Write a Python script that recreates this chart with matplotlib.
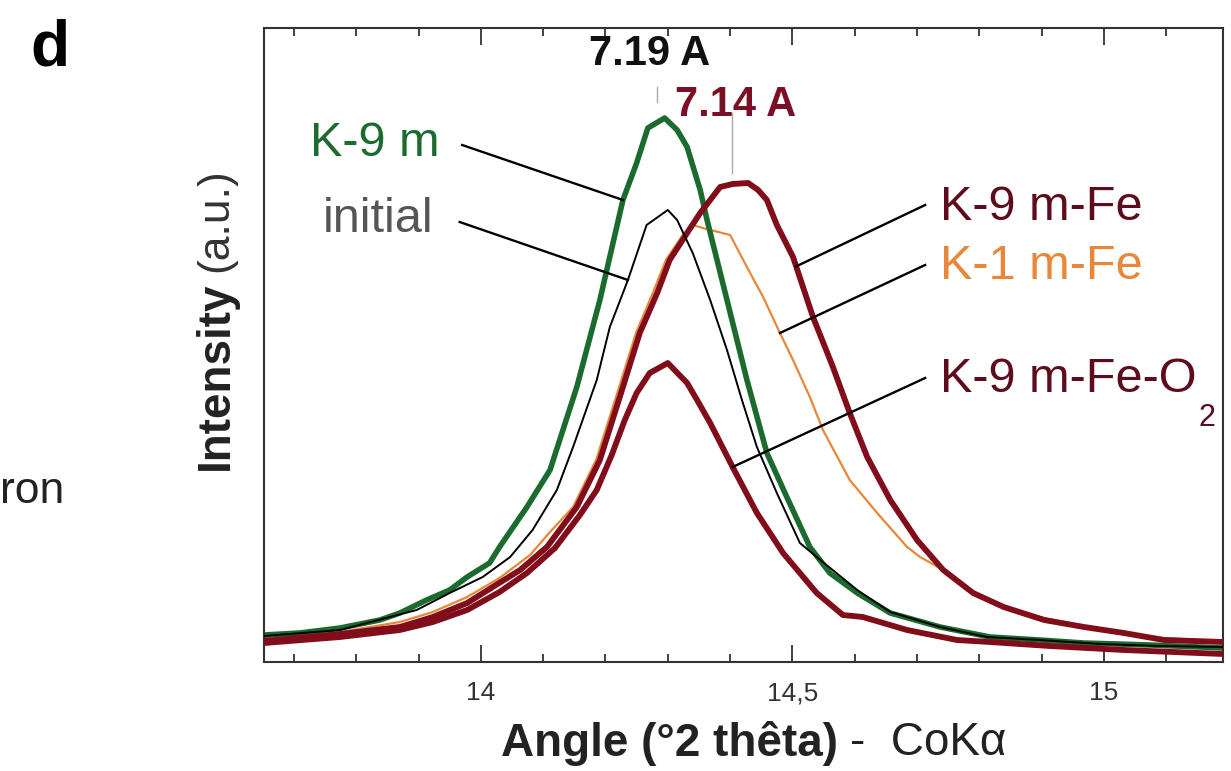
import numpy as np
import matplotlib
matplotlib.use("Agg")
import matplotlib.pyplot as plt
from matplotlib.ticker import MultipleLocator, FuncFormatter

plt.rcParams["font.family"] = ["Liberation Sans", "DejaVu Sans"]

# 2-theta (deg, CoKa) and intensity (a.u.) for each sample
angle_k9m = [13.652, 13.709, 13.774, 13.838, 13.870, 13.913, 13.950, 13.978, 14.014,
             14.030, 14.074, 14.111, 14.154, 14.191, 14.228, 14.250, 14.268, 14.295,
             14.315, 14.331, 14.352, 14.363, 14.395, 14.427, 14.459, 14.491, 14.528,
             14.560, 14.604, 14.657, 14.737, 14.817, 14.897, 14.968, 15.074, 15.191]
int_k9m = [27, 29, 34, 42, 49, 62, 72, 85, 99,
           115, 155, 192, 275, 362, 462, 499, 534, 544,
           532, 515, 472, 442, 362, 282, 209, 165, 115,
           89, 69, 49, 35, 25, 22, 19, 17, 14]

angle_init = [13.652, 13.774, 13.897, 13.950, 14.003, 14.047, 14.083, 14.122, 14.148,
              14.186, 14.207, 14.236, 14.266, 14.300, 14.315, 14.340, 14.368, 14.395,
              14.419, 14.443, 14.475, 14.512, 14.539, 14.604, 14.657, 14.737, 14.812,
              14.897, 14.994, 15.090, 15.191]
int_init = [26, 32, 52, 69, 85, 105, 132, 172, 215,
            282, 335, 382, 437, 452, 442, 409, 362, 312,
            262, 215, 169, 119, 105, 72, 50, 35, 25,
            22, 18, 16, 15]

angle_k9mfe = [13.652, 13.774, 13.870, 13.923, 13.978, 14.019, 14.063, 14.106, 14.154,
               14.191, 14.228, 14.255, 14.283, 14.303, 14.331, 14.352, 14.384, 14.404,
               14.429, 14.445, 14.459, 14.475, 14.501, 14.533, 14.565, 14.592, 14.620,
               14.657, 14.700, 14.742, 14.790, 14.839, 14.904, 14.968, 15.032, 15.096,
               15.191]
int_k9mfe = [21, 28, 35, 45, 59, 75, 92, 115, 155,
             202, 275, 329, 369, 402, 429, 449, 475, 478,
             479, 472, 462, 437, 405, 345, 295, 249, 205,
             162, 122, 92, 69, 55, 42, 35, 29, 22,
             20]

angle_k1mfe = [13.652, 13.774, 13.870, 13.923, 13.978, 14.030, 14.079, 14.111, 14.148,
               14.185, 14.222, 14.249, 14.276, 14.297, 14.324, 14.340, 14.356, 14.400,
               14.427, 14.453, 14.480, 14.501, 14.528, 14.549, 14.592, 14.636, 14.684,
               14.705, 14.742, 14.790, 14.839, 14.904, 14.968, 15.032, 15.096, 15.191]
int_k1mfe = [24, 30, 40, 50, 65, 84, 107, 130, 155,
             202, 275, 329, 369, 402, 427, 437, 434, 427,
             395, 365, 329, 302, 265, 232, 182, 149, 115,
             105, 92, 70, 56, 44, 36, 29, 24, 21]

angle_k9mfeo2 = [13.652, 13.774, 13.870, 13.923, 13.978, 14.030, 14.074, 14.119, 14.159,
                 14.186, 14.210, 14.231, 14.250, 14.271, 14.300, 14.331, 14.347, 14.368,
                 14.404, 14.443, 14.485, 14.539, 14.581, 14.613, 14.684, 14.764, 14.817,
                 14.913, 15.032, 15.191]
int_k9mfeo2 = [19, 25, 32, 40, 52, 70, 89, 114, 147,
               172, 207, 242, 269, 289, 299, 279, 262, 239,
               195, 149, 109, 69, 47, 45, 32, 22, 20,
               16, 12, 8]

GREEN = "#1c6b2e"
MAROON = "#810c1a"
ORANGE = "#e8873a"
TEXT_RED = "#5e0b1c"

fig = plt.figure(figsize=(12.31, 7.71), dpi=100)
W, H = 1231, 771
ax = fig.add_axes([264 / W, 1 - 662 / H, (1223 - 264) / W, (662 - 28) / H])

ax.plot(angle_k1mfe, int_k1mfe, color=ORANGE, lw=1.6, zorder=2)
ax.plot(angle_init, int_init, color="black", lw=1.4, zorder=3)
ax.plot(angle_k9m, int_k9m, color=GREEN, lw=4.0, zorder=2.5)
ax.plot(angle_k9mfe, int_k9mfe, color=MAROON, lw=4.2, zorder=2.6)
ax.plot(angle_k9mfeo2, int_k9mfeo2, color=MAROON, lw=4.2, zorder=2.7)

ax.set_xlim(13.652, 15.191)
ax.set_ylim(0, 634)

ax.xaxis.set_major_locator(MultipleLocator(0.5))
ax.xaxis.set_minor_locator(MultipleLocator(0.1))
ax.xaxis.set_major_formatter(FuncFormatter(lambda v, _: f"{v:g}".replace(".", ",")))
ax.tick_params(axis="x", which="both", direction="in", top=True, bottom=True,
               colors="#333333", width=1.3, labelsize=19, pad=14)
ax.tick_params(axis="x", which="major", length=12)
ax.tick_params(axis="x", which="minor", length=6)
ax.set_yticks([])
for sp in ax.spines.values():
    sp.set_linewidth(1.5)
    sp.set_color("#333333")


def leader(curve_x, curve_y, x_end, x_start, y_start):
    y_end = np.interp(x_end, curve_x, curve_y)
    ax.plot([x_start, x_end], [y_start, y_end], color="black", lw=1.7, zorder=4)


# labels on the left with leader lines
ax.text(13.830, 518, "K-9 m", color=GREEN, fontsize=35, ha="center", va="center")
leader(angle_k9m, int_k9m, 14.228, 13.970, 517)
ax.text(13.835, 442, "initial", color="#555555", fontsize=35, ha="center", va="center")
leader(angle_init, int_init, 14.236, 13.966, 440)

# labels on the right
ax.text(14.737, 455, "K-9 m-Fe", color=TEXT_RED, fontsize=35, ha="left", va="center")
leader(angle_k9mfe, int_k9mfe, 14.506, 14.713, 457)
ax.text(14.737, 395, "K-1 m-Fe", color=ORANGE, fontsize=35, ha="left", va="center")
leader(angle_k1mfe, int_k1mfe, 14.480, 14.713, 397)
ax.text(14.737, 282, "K-9 m-Fe-O", color=TEXT_RED, fontsize=35, ha="left", va="center")
ax.text(15.166, 244, "2", color=TEXT_RED, fontsize=22, ha="center", va="center")
leader(angle_k9mfeo2, int_k9mfeo2, 14.404, 14.713, 284)

# d-spacing markers
ax.text(14.271, 608, "7.19 A", fontsize=30, fontweight="bold", color="#111111",
        ha="center", va="center")
ax.plot([14.283, 14.283], [560, 575], color="#aaaaaa", lw=1.0)
ax.text(14.409, 557, "7.14 A", fontsize=30, fontweight="bold", color="#7a0f25",
        ha="center", va="center")
ax.plot([14.403, 14.403], [489, 549], color="#aaaaaa", lw=1.0)

# axis titles
fig.text(838 / W, 1 - 743 / H, "Angle (°2 thêta)", fontsize=33, fontweight="bold",
         color="#222222", ha="right", va="center")
fig.text(850 / W, 1 - 743 / H, "-  CoKα", fontsize=33, color="#222222",
         ha="left", va="center")
fig.text(216 / W, 1 - 470 / H, "Intensity", fontsize=33, fontweight="bold",
         color="#222222", rotation=90, ha="center", va="bottom")
fig.text(216 / W, 1 - 272 / H, "(a.u.)", fontsize=32, color="#333333",
         rotation=90, ha="center", va="bottom")

fig.text(50 / W, 1 - 48 / H, "d", fontsize=46, fontweight="bold", ha="center", va="center")
fig.text(0, 1 - 492 / H, "ron", fontsize=32, color="#222222", ha="left", va="center")

fig.savefig("out.png", dpi=100)
